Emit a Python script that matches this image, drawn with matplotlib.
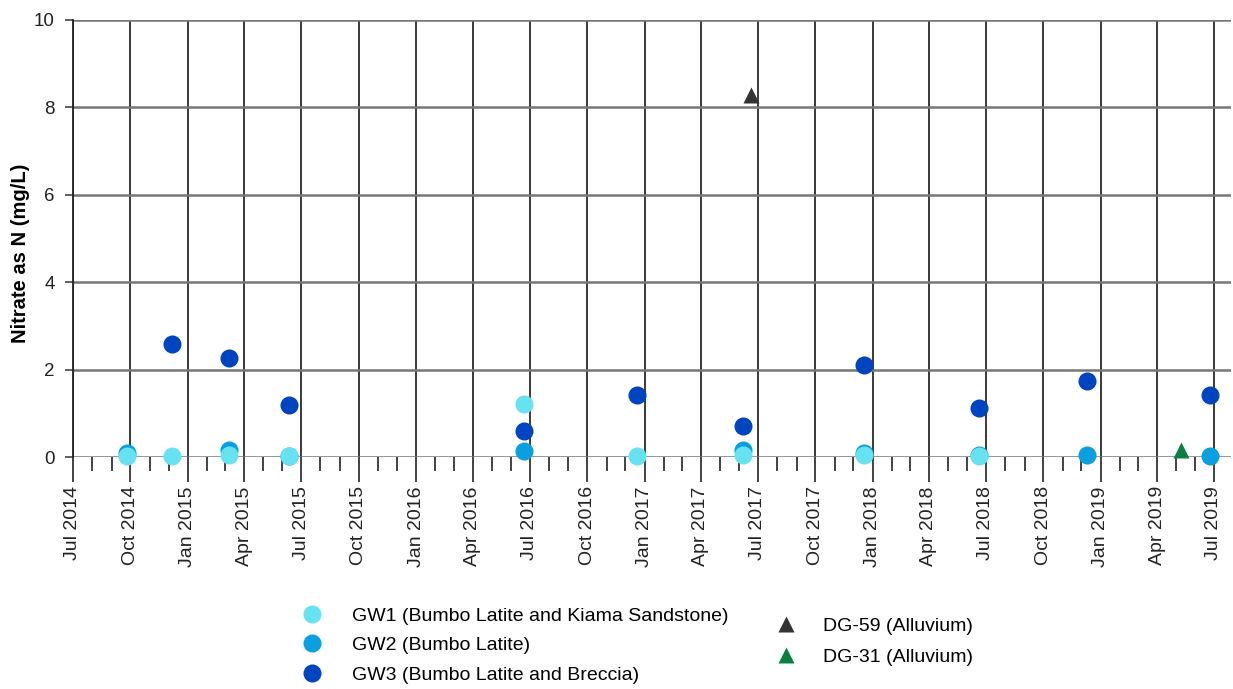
import pandas as pd
import matplotlib.pyplot as plt
import matplotlib.dates as mdates
from matplotlib.lines import Line2D

plt.rcParams['font.family'] = ['Liberation Sans', 'DejaVu Sans']

# sampling rounds, nitrate as N (mg/L)
gw1_dates = ["2014-09-25", "2014-12-07", "2015-03-08", "2015-06-12", "2016-06-22",
             "2016-12-20", "2017-06-07", "2017-12-18", "2018-06-20"]
gw1_vals = [0.02, 0.02, 0.05, 0.02, 1.21, 0.02, 0.05, 0.05, 0.02]

gw2_dates = ["2014-09-25", "2015-03-08", "2015-06-12", "2016-06-22", "2017-06-07",
             "2017-12-18", "2018-06-20", "2018-12-10", "2019-06-25"]
gw2_vals = [0.1, 0.16, 0.02, 0.13, 0.15, 0.1, 0.05, 0.05, 0.02]

gw3_dates = ["2014-12-07", "2015-03-08", "2015-06-12", "2016-06-22", "2016-12-20",
             "2017-06-07", "2017-12-18", "2018-06-20", "2018-12-10", "2019-06-25"]
gw3_vals = [2.58, 2.27, 1.18, 0.6, 1.43, 0.72, 2.1, 1.13, 1.73, 1.43]

dg59_dates = ["2017-06-20"]
dg59_vals = [8.28]

dg31_dates = ["2019-05-10"]
dg31_vals = [0.15]

c_gw1 = "#66e2f0"
c_gw2 = "#0aa0e0"
c_gw3 = "#0044c0"
c_dg59 = "#333333"
c_dg31 = "#0a8040"

fig = plt.figure(figsize=(12.33, 6.89), dpi=100)
ax = fig.add_axes([0.0592, 0.3367, 0.939, 0.6343])

pt = dict(ls='none', mec='none', clip_on=False)
ax.plot(pd.to_datetime(gw2_dates), gw2_vals, 'o', color=c_gw2, ms=13, zorder=3, **pt)
ax.plot(pd.to_datetime(gw3_dates), gw3_vals, 'o', color=c_gw3, ms=13, zorder=3, **pt)
ax.plot(pd.to_datetime(gw1_dates), gw1_vals, 'o', color=c_gw1, ms=13, zorder=4, **pt)
ax.plot(pd.to_datetime(dg59_dates), dg59_vals, '^', color=c_dg59, ms=11, zorder=3, **pt)
ax.plot(pd.to_datetime(dg31_dates), dg31_vals, '^', color=c_dg31, ms=11, zorder=3, **pt)

ax.set_ylim(0, 10)
ax.set_yticks([0, 2, 4, 6, 8, 10])
ax.set_xlim(pd.Timestamp("2014-07-01"), pd.Timestamp("2019-07-28"))
ax.xaxis.set_major_locator(mdates.MonthLocator(bymonth=[1, 4, 7, 10]))
ax.xaxis.set_major_formatter(mdates.DateFormatter("%b %Y"))
ax.xaxis.set_minor_locator(mdates.MonthLocator())
plt.setp(ax.get_xticklabels(), rotation=90, fontsize=14, color='#222222')
plt.setp(ax.get_yticklabels(), fontsize=13.5, color='#222222')

ax.tick_params(axis='x', which='major', length=18, width=1.2, color='#222222', pad=3)
ax.tick_params(axis='x', which='minor', length=10, width=1.2, color='#222222')
ax.tick_params(axis='y', length=6, width=1.2, color='#444444', pad=7)

ax.xaxis.grid(True, which='major', color='#2a2a2a', lw=1.3)
ax.yaxis.grid(True, color='#777777', lw=1.8)
ax.set_axisbelow(True)
for s in ['top', 'right', 'bottom']:
    ax.spines[s].set_visible(False)
ax.spines['left'].set_color('#222222')
ax.spines['left'].set_linewidth(1.3)

ax.set_ylabel("Nitrate as N (mg/L)", fontsize=14.5, fontweight='bold')
ax.yaxis.set_label_coords(-0.037, 0.465)

gw_handles = [
    Line2D([], [], ls='none', marker='o', ms=13, mec='none', color=c_gw1),
    Line2D([], [], ls='none', marker='o', ms=13, mec='none', color=c_gw2),
    Line2D([], [], ls='none', marker='o', ms=13, mec='none', color=c_gw3),
]
gw_labels = ["GW1 (Bumbo Latite and Kiama Sandstone)", "GW2 (Bumbo Latite)",
             "GW3 (Bumbo Latite and Breccia)"]
dg_handles = [
    Line2D([], [], ls='none', marker='^', ms=11, mec='none', color=c_dg59),
    Line2D([], [], ls='none', marker='^', ms=11, mec='none', color=c_dg31),
]
dg_labels = ["DG-59 (Alluvium)", "DG-31 (Alluvium)"]

fig.legend(gw_handles, gw_labels, loc='upper left', bbox_to_anchor=(0.2372, 0.119),
           frameon=False, fontsize=14, handletextpad=1.06, labelspacing=0.62,
           borderaxespad=0, borderpad=0)
fig.legend(dg_handles, dg_labels, loc='upper left', bbox_to_anchor=(0.6217, 0.104),
           frameon=False, fontsize=14, handletextpad=0.9, labelspacing=0.7,
           borderaxespad=0, borderpad=0)

fig.savefig("out.png", dpi=100)
